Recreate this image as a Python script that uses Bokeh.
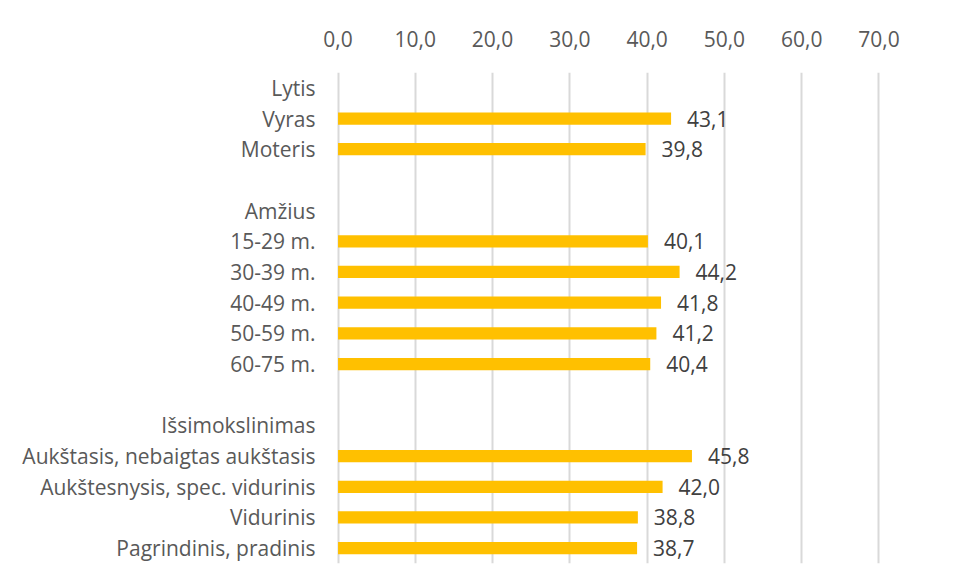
from bokeh.plotting import figure
from bokeh.models import Range1d, FactorRange, FixedTicker, ColumnDataSource
from bokeh.core.properties import value
from bokeh.embed import file_html
from bokeh.resources import INLINE

# ---- data ----
lytis_cats = ["Vyras", "Moteris"]
lytis_vals = [43.1, 39.8]
amzius_cats = ["15-29 m.", "30-39 m.", "40-49 m.", "50-59 m.", "60-75 m."]
amzius_vals = [40.1, 44.2, 41.8, 41.2, 40.4]
issi_cats = ["Aukštasis, nebaigtas aukštasis", "Aukštesnysis, spec. vidurinis",
             "Vidurinis", "Pagrindinis, pradinis"]
issi_vals = [45.8, 42.0, 38.8, 38.7]
group_titles = ["Lytis", "Amžius", "Išsimokslinimas"]
x_ticks = [0, 10, 20, 30, 40, 50, 60, 70]
x_tick_labels = ["0,0", "10,0", "20,0", "30,0", "40,0", "50,0", "60,0", "70,0"]

# rows top to bottom, blanks between groups
rows = ([group_titles[0]] + lytis_cats + [" "] +
        [group_titles[1]] + amzius_cats + ["  "] +
        [group_titles[2]] + issi_cats)

cats = lytis_cats + amzius_cats + issi_cats
vals = lytis_vals + amzius_vals + issi_vals
labels = [f"{v:.1f}".replace(".", ",") for v in vals]
src = ColumnDataSource(dict(cat=cats, val=vals, lab=labels))

FONT = "Open Sans"

p = figure(width=940, height=566, output_backend="svg", toolbar_location=None,
           y_range=FactorRange(factors=list(reversed(rows))),
           x_range=Range1d(-0.2, 70.2), x_axis_location="above",
           min_border_left=336, min_border_top=72, min_border_right=60,
           min_border_bottom=3)
p.outline_line_color = None
p.background_fill_color = "white"
p.border_fill_color = "white"

p.hbar(y="cat", right="val", left=0, height=0.4, source=src,
       fill_color="#FFC000", line_color=None)
p.text(x="val", y="cat", text="lab", source=src, x_offset=16,
       text_align="left", text_baseline="middle",
       text_font=value(FONT), text_font_size="21px", text_color="#404040")

p.ygrid.grid_line_color = None
p.xgrid.grid_line_color = "#D9D9D9"
p.xgrid.grid_line_width = 2
p.xgrid.ticker = FixedTicker(ticks=x_ticks)
p.xgrid.level = "underlay"

xa = p.xaxis[0]
xa.ticker = FixedTicker(ticks=x_ticks)
xa.major_label_overrides = {t: l for t, l in zip(x_ticks, x_tick_labels)}
xa.axis_line_color = None
xa.major_tick_line_color = None
xa.minor_tick_line_color = None
xa.major_label_standoff = 20
xa.major_label_text_font = FONT
xa.major_label_text_font_size = "21px"
xa.major_label_text_color = "#595959"

ya = p.yaxis[0]
ya.axis_line_color = None
ya.major_tick_line_color = None
ya.minor_tick_line_color = None
ya.major_label_standoff = 15
ya.major_label_text_font = FONT
ya.major_label_text_font_size = "21px"
ya.major_label_text_color = "#595959"

open("out.html", "w").write(file_html(p, INLINE))
